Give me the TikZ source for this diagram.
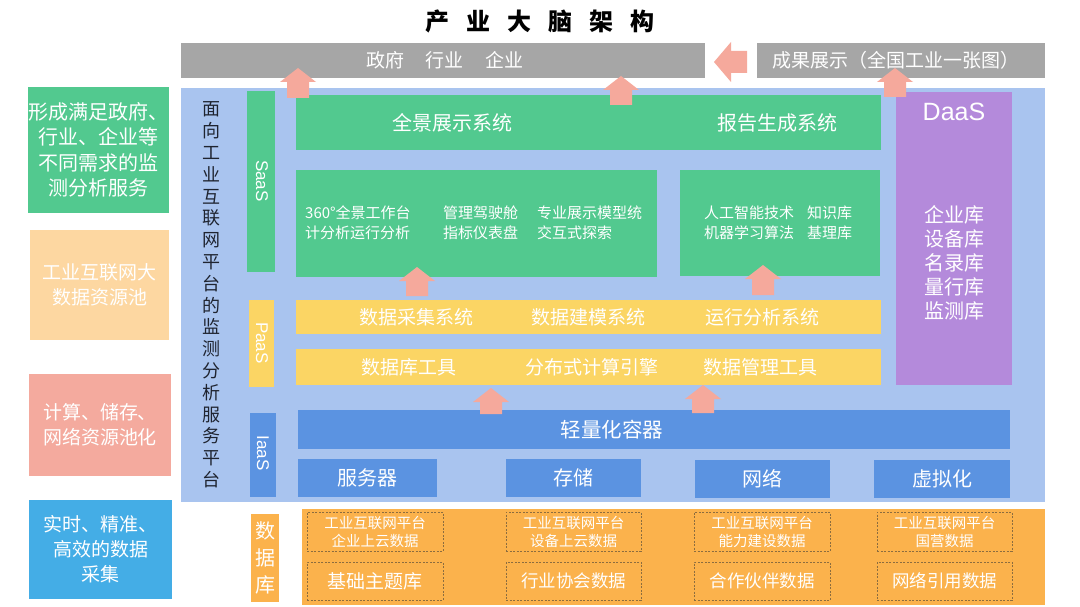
\documentclass[tikz,border=0pt]{standalone}
\usepackage{fontspec}
\setmainfont{Noto Sans CJK SC}
\newfontfamily\latf{Liberation Sans}
\definecolor{graybar}{HTML}{A6A6A6}
\definecolor{bgblue}{HTML}{A9C4EF}
\definecolor{gboxc}{HTML}{52C98F}
\definecolor{yboxc}{HTML}{FBD564}
\definecolor{bboxc}{HTML}{5B93E1}
\definecolor{pboxc}{HTML}{B48ADB}
\definecolor{oboxc}{HTML}{FBB24C}
\definecolor{arrpink}{HTML}{F5A99C}
\definecolor{peachc}{HTML}{FDD7A1}
\definecolor{salmonc}{HTML}{F4AA9E}
\definecolor{lblue}{HTML}{44ADE6}
\definecolor{vtext}{HTML}{1F2430}
\definecolor{dashc}{HTML}{8C6D3F}
\newcommand\blockup[3]{\fill[arrpink] (#1,#2) -- ({#1+18},{#2+14}) -- ({#1+11},{#2+14}) -- ({#1+11},#3) -- ({#1-11},#3) -- ({#1-11},{#2+14}) -- ({#1-18},{#2+14}) -- cycle;}
\begin{document}
\begin{tikzpicture}[x=1pt,y=-1pt,
  blk/.style={inner sep=0pt, outer sep=0pt, text=white, align=center},
  lbl/.style={inner sep=0pt, text=white, align=center},
  f14/.style={font=\fontsize{14.5}{18}\selectfont},
  f15/.style={font=\fontsize{15}{20}\selectfont},
  f17/.style={font=\fontsize{17.5}{22}\selectfont},
  f19/.style={font=\fontsize{19}{25}\selectfont},
  f20/.style={font=\fontsize{20}{24}\selectfont},
  dbox/.style={draw=dashc, dash pattern=on 2pt off 1.5pt, line width=0.6pt, inner sep=0pt, text=white, align=center}]
\useasboundingbox (0,0) rectangle (1080,607);
\fill[white] (0,0) rectangle (1080,607);

% title
\node[font=\fontsize{24}{28}\selectfont\bfseries, text=black, inner sep=0pt] (title) at (540,21)
  {产\hspace{17pt}业\hspace{17pt}大\hspace{17pt}脑\hspace{17pt}架\hspace{17pt}构};

% top gray bars
\node[blk, fill=graybar, minimum width=524pt, minimum height=35pt] (users) at (443,60.5) {};
\node[lbl, f19] (userstxt) at (445,60.5) {政府\hspace{22pt}行业\hspace{22pt}企业};
\node[blk, fill=graybar, minimum width=288pt, minimum height=35pt, f19] (result) at (901,60.5) {};
\node[lbl, f19] (resulttxt) at (896,60.5) {成果展示（全国工业一张图）};

% big background
\node[blk, fill=bgblue, minimum width=864pt, minimum height=414pt] (bg) at (613,295) {};

% left column
\node[blk, fill=gboxc, minimum width=141pt, minimum height=126pt, font=\fontsize{20}{25.5}\selectfont] (lg) at (98.5,150) {形成满足政府、\\行业、企业等\\不同需求的监\\测分析服务};
\node[blk, fill=peachc, minimum width=139pt, minimum height=110pt, f19] (lp) at (99.5,285) {工业互联网大\\数据资源池};
\node[blk, fill=salmonc, minimum width=142pt, minimum height=102pt, f19] (ls) at (100,425) {计算、储存、\\网络资源池化};
\node[blk, fill=lblue, minimum width=143pt, minimum height=99pt, f19] (lb) at (100.5,549.5) {实时、精准、\\高效的数据\\采集};

% vertical platform text
\node[inner sep=0pt, text=vtext, align=center, font=\fontsize{18}{21.8}\selectfont] (vt) at (211,295)
 {面\\向\\工\\业\\互\\联\\网\\平\\台\\的\\监\\测\\分\\析\\服\\务\\平\\台};

% layer labels
\node[blk, fill=gboxc, minimum width=28pt, minimum height=181pt] (saas) at (261,181.5) {};
\node[lbl, rotate=-90, font=\latf\fontsize{17}{20}\selectfont] (saast) at (262,181) {SaaS};
\node[blk, fill=yboxc, minimum width=25pt, minimum height=87pt] (paas) at (261.5,343.5) {};
\node[lbl, rotate=-90, font=\latf\fontsize{17}{20}\selectfont] (paast) at (262,343) {PaaS};
\node[blk, fill=bboxc, minimum width=26pt, minimum height=84pt] (iaas) at (263,455) {};
\node[lbl, rotate=-90, font=\latf\fontsize{17}{20}\selectfont] (iaast) at (263,453) {IaaS};

% SaaS
\node[blk, fill=gboxc, minimum width=585pt, minimum height=55pt] (gtop) at (588.5,122.5) {};
\node[lbl, f20] (qj) at (452,123) {全景展示系统};
\node[lbl, f20] (bg2) at (777,123) {报告生成系统};
\node[blk, fill=gboxc, minimum width=361pt, minimum height=107pt] (gl) at (476.5,223.5) {};
\node[lbl, f15, align=left, anchor=west] (gl1) at (305,223) {360°全景工作台\\计分析运行分析};
\node[lbl, f15, align=left, anchor=west] (gl2) at (443,223) {管理驾驶舱\\指标仪表盘};
\node[lbl, f15, align=left, anchor=west] (gl3) at (537,223) {专业展示模型统\\交互式探索};
\node[blk, fill=gboxc, minimum width=200pt, minimum height=106pt] (gr) at (780,223) {};
\node[lbl, f15, align=left, anchor=west] (gr1) at (704,223) {人工智能技术\\机器学习算法};
\node[lbl, f15, align=left, anchor=west] (gr2) at (807,223) {知识库\\基理库};

% DaaS
\node[blk, fill=pboxc, minimum width=116pt, minimum height=293pt] (daas) at (954,238.5) {};
\node[lbl, font=\latf\fontsize{25}{28}\selectfont] (daast) at (954,112) {DaaS};
\node[lbl, font=\fontsize{20}{24}\selectfont] (daasl) at (954,263) {企业库\\设备库\\名录库\\量行库\\监测库};

% PaaS
\node[blk, fill=yboxc, minimum width=585pt, minimum height=34pt] (y1) at (588.5,317) {};
\node[lbl, f19] (y1a) at (416,317) {数据采集系统};
\node[lbl, f19] (y1b) at (588,317) {数据建模系统};
\node[lbl, f19] (y1c) at (762,317) {运行分析系统};
\node[blk, fill=yboxc, minimum width=585pt, minimum height=36pt] (y2) at (588.5,367) {};
\node[lbl, f19] (y2a) at (409,367) {数据库工具};
\node[lbl, f19] (y2b) at (592,367) {分布式计算引擎};
\node[lbl, f19] (y2c) at (760,367) {数据管理工具};

% IaaS
\node[blk, fill=bboxc, minimum width=712pt, minimum height=39pt] (cont) at (654,429.5) {};
\node[lbl, font=\fontsize{20.5}{24}\selectfont] (contt) at (612,430) {轻量化容器};
\node[blk, fill=bboxc, minimum width=139pt, minimum height=38pt, f20] (srv) at (367.5,478) {服务器};
\node[blk, fill=bboxc, minimum width=135pt, minimum height=38pt, f20] (sto) at (573.5,478) {存储};
\node[blk, fill=bboxc, minimum width=135pt, minimum height=38pt, f20] (net) at (762.5,479) {网络};
\node[blk, fill=bboxc, minimum width=136pt, minimum height=38pt, f20] (vir) at (942,479) {虚拟化};

% database
\node[blk, fill=oboxc, minimum width=743pt, minimum height=96pt] (db) at (673.5,557) {};
\node[blk, fill=oboxc, minimum width=28pt, minimum height=88pt, font=\fontsize{20}{27}\selectfont] (dbl) at (265,558) {数\\据\\库};
\node[dbox, minimum width=136pt, minimum height=39pt, f14] (d11) at (375,531.5) {工业互联网平台\\企业上云数据};
\node[dbox, minimum width=135pt, minimum height=39pt, f14] (d12) at (573.5,531.5) {工业互联网平台\\设备上云数据};
\node[dbox, minimum width=136pt, minimum height=39pt, f14] (d13) at (762,531.5) {工业互联网平台\\能力建设数据};
\node[dbox, minimum width=135pt, minimum height=39pt, f14] (d14) at (944.5,531.5) {工业互联网平台\\国营数据};
\node[dbox, minimum width=136pt, minimum height=38pt, f19] (d21) at (375,581) {基础主题库};
\node[dbox, minimum width=135pt, minimum height=38pt, f17] (d22) at (573.5,581) {行业协会数据};
\node[dbox, minimum width=136pt, minimum height=38pt, f17] (d23) at (762,581) {合作伙伴数据};
\node[dbox, minimum width=135pt, minimum height=38pt, f17] (d24) at (944.5,581) {网络引用数据};

% block arrows
\blockup{298}{68}{98}
\blockup{621}{76}{105}
\blockup{895}{68}{97}
\blockup{417}{267}{296}
\blockup{763}{265}{295}
\blockup{491}{388}{414}
\blockup{703}{385}{413}
\fill[arrpink] (714,62) -- (731,42) -- (731,51) -- (747,51) -- (747,73) -- (731,73) -- (731,82) -- cycle;
\end{tikzpicture}
\end{document}
